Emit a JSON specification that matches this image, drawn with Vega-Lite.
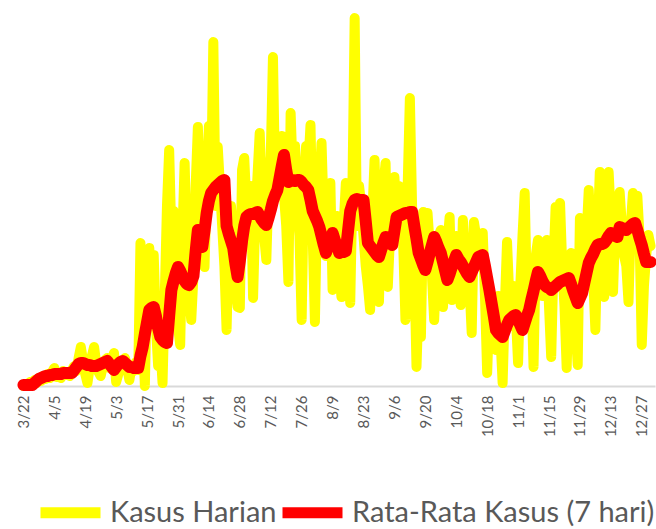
{
"$schema": "https://vega.github.io/schema/vega-lite/v6.json",
"width": 636,
"height": 381,
"autosize": {"type": "none"},
"padding": {"left": 19, "top": 5, "right": 1, "bottom": 143},
"background": "white",
"config": {"view": {"stroke": null}},
"data": {"values": [
{"date":"2020-03-22","harian":0,"rata":1},{"date":"2020-03-23","harian":2,"rata":1},{"date":"2020-03-24","harian":1,"rata":1},{"date":"2020-03-25","harian":4,"rata":1},{"date":"2020-03-26","harian":2,"rata":1},{"date":"2020-03-27","harian":6,"rata":3},{"date":"2020-03-28","harian":3,"rata":5},{"date":"2020-03-29","harian":8,"rata":7},{"date":"2020-03-30","harian":5,"rata":8},{"date":"2020-03-31","harian":10,"rata":9},
{"date":"2020-04-01","harian":7,"rata":10},{"date":"2020-04-02","harian":12,"rata":10},{"date":"2020-04-03","harian":8,"rata":11},{"date":"2020-04-04","harian":14,"rata":11},{"date":"2020-04-05","harian":18,"rata":12},{"date":"2020-04-06","harian":9,"rata":12},{"date":"2020-04-07","harian":12,"rata":12},{"date":"2020-04-08","harian":8,"rata":12},{"date":"2020-04-09","harian":15,"rata":13},{"date":"2020-04-10","harian":11,"rata":13},{"date":"2020-04-11","harian":14,"rata":13},{"date":"2020-04-12","harian":10,"rata":13},{"date":"2020-04-13","harian":16,"rata":13},{"date":"2020-04-14","harian":20,"rata":16},{"date":"2020-04-15","harian":15,"rata":19},{"date":"2020-04-16","harian":28,"rata":22},{"date":"2020-04-17","harian":39,"rata":23},{"date":"2020-04-18","harian":25,"rata":23},{"date":"2020-04-19","harian":12,"rata":22},{"date":"2020-04-20","harian":3,"rata":21},{"date":"2020-04-21","harian":18,"rata":21},{"date":"2020-04-22","harian":30,"rata":20},{"date":"2020-04-23","harian":39,"rata":20},{"date":"2020-04-24","harian":22,"rata":20},{"date":"2020-04-25","harian":14,"rata":21},{"date":"2020-04-26","harian":10,"rata":22},{"date":"2020-04-27","harian":20,"rata":23},{"date":"2020-04-28","harian":26,"rata":24},{"date":"2020-04-29","harian":28,"rata":25},{"date":"2020-04-30","harian":18,"rata":22},
{"date":"2020-05-01","harian":25,"rata":19},{"date":"2020-05-02","harian":33,"rata":16},{"date":"2020-05-03","harian":4,"rata":19},{"date":"2020-05-04","harian":12,"rata":22},{"date":"2020-05-05","harian":24,"rata":24},{"date":"2020-05-06","harian":22,"rata":25},{"date":"2020-05-07","harian":28,"rata":23},{"date":"2020-05-08","harian":18,"rata":21},{"date":"2020-05-09","harian":6,"rata":19},{"date":"2020-05-10","harian":20,"rata":19},{"date":"2020-05-11","harian":15,"rata":18},{"date":"2020-05-12","harian":24,"rata":18},{"date":"2020-05-13","harian":16,"rata":18},{"date":"2020-05-14","harian":143,"rata":30},{"date":"2020-05-15","harian":60,"rata":39},{"date":"2020-05-16","harian":0,"rata":52},{"date":"2020-05-17","harian":110,"rata":64},{"date":"2020-05-18","harian":138,"rata":76},{"date":"2020-05-19","harian":95,"rata":78},{"date":"2020-05-20","harian":131,"rata":79},{"date":"2020-05-21","harian":60,"rata":70},{"date":"2020-05-22","harian":20,"rata":58},{"date":"2020-05-23","harian":40,"rata":49},{"date":"2020-05-24","harian":3,"rata":46},{"date":"2020-05-25","harian":90,"rata":44},{"date":"2020-05-26","harian":180,"rata":43},{"date":"2020-05-27","harian":236,"rata":70},{"date":"2020-05-28","harian":150,"rata":96},{"date":"2020-05-29","harian":175,"rata":105},{"date":"2020-05-30","harian":90,"rata":113},{"date":"2020-05-31","harian":60,"rata":119},
{"date":"2020-06-01","harian":41,"rata":115},{"date":"2020-06-02","harian":150,"rata":110},{"date":"2020-06-03","harian":223,"rata":105},{"date":"2020-06-04","harian":140,"rata":102},{"date":"2020-06-05","harian":90,"rata":101},{"date":"2020-06-06","harian":66,"rata":104},{"date":"2020-06-07","harian":110,"rata":110},{"date":"2020-06-08","harian":200,"rata":135},{"date":"2020-06-09","harian":259,"rata":156},{"date":"2020-06-10","harian":190,"rata":148},{"date":"2020-06-11","harian":150,"rata":139},{"date":"2020-06-12","harian":119,"rata":155},{"date":"2020-06-13","harian":200,"rata":173},{"date":"2020-06-14","harian":260,"rata":185},{"date":"2020-06-15","harian":200,"rata":193},{"date":"2020-06-16","harian":344,"rata":196},{"date":"2020-06-17","harian":180,"rata":199},{"date":"2020-06-18","harian":239,"rata":201},{"date":"2020-06-19","harian":200,"rata":203},{"date":"2020-06-20","harian":160,"rata":205},{"date":"2020-06-21","harian":120,"rata":206},{"date":"2020-06-22","harian":56,"rata":160},{"date":"2020-06-23","harian":150,"rata":152},{"date":"2020-06-24","harian":180,"rata":145},{"date":"2020-06-25","harian":150,"rata":138},{"date":"2020-06-26","harian":100,"rata":122},{"date":"2020-06-27","harian":79,"rata":109},{"date":"2020-06-28","harian":78,"rata":125},{"date":"2020-06-29","harian":216,"rata":145},{"date":"2020-06-30","harian":228,"rata":160},
{"date":"2020-07-01","harian":180,"rata":169},{"date":"2020-07-02","harian":150,"rata":171},{"date":"2020-07-03","harian":200,"rata":172},{"date":"2020-07-04","harian":88,"rata":172},{"date":"2020-07-05","harian":170,"rata":173},{"date":"2020-07-06","harian":210,"rata":174},{"date":"2020-07-07","harian":253,"rata":170},{"date":"2020-07-08","harian":190,"rata":166},{"date":"2020-07-09","harian":150,"rata":163},{"date":"2020-07-10","harian":126,"rata":161},{"date":"2020-07-11","harian":200,"rata":168},{"date":"2020-07-12","harian":230,"rata":176},{"date":"2020-07-13","harian":329,"rata":185},{"date":"2020-07-14","harian":200,"rata":191},{"date":"2020-07-15","harian":240,"rata":196},{"date":"2020-07-16","harian":220,"rata":208},{"date":"2020-07-17","harian":250,"rata":220},{"date":"2020-07-18","harian":190,"rata":231},{"date":"2020-07-19","harian":160,"rata":216},{"date":"2020-07-20","harian":104,"rata":204},{"date":"2020-07-21","harian":273,"rata":205},{"date":"2020-07-22","harian":210,"rata":206},{"date":"2020-07-23","harian":240,"rata":205},{"date":"2020-07-24","harian":180,"rata":206},{"date":"2020-07-25","harian":150,"rata":206},{"date":"2020-07-26","harian":66,"rata":204},{"date":"2020-07-27","harian":200,"rata":201},{"date":"2020-07-28","harian":240,"rata":199},{"date":"2020-07-29","harian":220,"rata":196},{"date":"2020-07-30","harian":261,"rata":186},{"date":"2020-07-31","harian":150,"rata":175},
{"date":"2020-08-01","harian":64,"rata":170},{"date":"2020-08-02","harian":180,"rata":165},{"date":"2020-08-03","harian":200,"rata":159},{"date":"2020-08-04","harian":243,"rata":150},{"date":"2020-08-05","harian":170,"rata":141},{"date":"2020-08-06","harian":130,"rata":133},{"date":"2020-08-07","harian":160,"rata":140},{"date":"2020-08-08","harian":203,"rata":147},{"date":"2020-08-09","harian":96,"rata":153},{"date":"2020-08-10","harian":150,"rata":146},{"date":"2020-08-11","harian":170,"rata":140},{"date":"2020-08-12","harian":120,"rata":133},{"date":"2020-08-13","harian":89,"rata":134},{"date":"2020-08-14","harian":160,"rata":134},{"date":"2020-08-15","harian":203,"rata":135},{"date":"2020-08-16","harian":150,"rata":155},{"date":"2020-08-17","harian":83,"rata":175},{"date":"2020-08-18","harian":200,"rata":182},{"date":"2020-08-19","harian":368,"rata":186},{"date":"2020-08-20","harian":160,"rata":187},{"date":"2020-08-21","harian":200,"rata":186},{"date":"2020-08-22","harian":180,"rata":186},{"date":"2020-08-23","harian":150,"rata":186},{"date":"2020-08-24","harian":120,"rata":165},{"date":"2020-08-25","harian":100,"rata":143},{"date":"2020-08-26","harian":76,"rata":140},{"date":"2020-08-27","harian":170,"rata":137},{"date":"2020-08-28","harian":226,"rata":134},{"date":"2020-08-29","harian":150,"rata":131},{"date":"2020-08-30","harian":84,"rata":129},{"date":"2020-08-31","harian":180,"rata":136},
{"date":"2020-09-01","harian":200,"rata":143},{"date":"2020-09-02","harian":223,"rata":149},{"date":"2020-09-03","harian":99,"rata":146},{"date":"2020-09-04","harian":150,"rata":143},{"date":"2020-09-05","harian":190,"rata":141},{"date":"2020-09-06","harian":209,"rata":155},{"date":"2020-09-07","harian":170,"rata":169},{"date":"2020-09-08","harian":200,"rata":170},{"date":"2020-09-09","harian":180,"rata":171},{"date":"2020-09-10","harian":140,"rata":172},{"date":"2020-09-11","harian":66,"rata":173},{"date":"2020-09-12","harian":200,"rata":173},{"date":"2020-09-13","harian":288,"rata":174},{"date":"2020-09-14","harian":180,"rata":174},{"date":"2020-09-15","harian":120,"rata":160},{"date":"2020-09-16","harian":19,"rata":147},{"date":"2020-09-17","harian":90,"rata":133},{"date":"2020-09-18","harian":49,"rata":127},{"date":"2020-09-19","harian":174,"rata":121},{"date":"2020-09-20","harian":130,"rata":116},{"date":"2020-09-21","harian":173,"rata":124},{"date":"2020-09-22","harian":140,"rata":133},{"date":"2020-09-23","harian":110,"rata":141},{"date":"2020-09-24","harian":66,"rata":149},{"date":"2020-09-25","harian":120,"rata":144},{"date":"2020-09-26","harian":150,"rata":138},{"date":"2020-09-27","harian":156,"rata":133},{"date":"2020-09-28","harian":79,"rata":124},{"date":"2020-09-29","harian":120,"rata":115},{"date":"2020-09-30","harian":140,"rata":106},
{"date":"2020-10-01","harian":169,"rata":112},{"date":"2020-10-02","harian":86,"rata":119},{"date":"2020-10-03","harian":130,"rata":125},{"date":"2020-10-04","harian":150,"rata":131},{"date":"2020-10-05","harian":120,"rata":127},{"date":"2020-10-06","harian":81,"rata":124},{"date":"2020-10-07","harian":166,"rata":120},{"date":"2020-10-08","harian":130,"rata":116},{"date":"2020-10-09","harian":140,"rata":112},{"date":"2020-10-10","harian":100,"rata":109},{"date":"2020-10-11","harian":53,"rata":114},{"date":"2020-10-12","harian":164,"rata":119},{"date":"2020-10-13","harian":150,"rata":124},{"date":"2020-10-14","harian":120,"rata":129},{"date":"2020-10-15","harian":130,"rata":130},{"date":"2020-10-16","harian":153,"rata":131},{"date":"2020-10-17","harian":90,"rata":120},{"date":"2020-10-18","harian":13,"rata":108},{"date":"2020-10-19","harian":80,"rata":96},{"date":"2020-10-20","harian":60,"rata":83},{"date":"2020-10-21","harian":70,"rata":70},{"date":"2020-10-22","harian":36,"rata":56},{"date":"2020-10-23","harian":90,"rata":53},{"date":"2020-10-24","harian":50,"rata":51},{"date":"2020-10-25","harian":3,"rata":49},{"date":"2020-10-26","harian":80,"rata":55},{"date":"2020-10-27","harian":144,"rata":61},{"date":"2020-10-28","harian":90,"rata":66},{"date":"2020-10-29","harian":60,"rata":68},{"date":"2020-10-30","harian":100,"rata":70},{"date":"2020-10-31","harian":70,"rata":71},
{"date":"2020-11-01","harian":23,"rata":66},{"date":"2020-11-02","harian":100,"rata":61},{"date":"2020-11-03","harian":150,"rata":56},{"date":"2020-11-04","harian":193,"rata":63},{"date":"2020-11-05","harian":90,"rata":70},{"date":"2020-11-06","harian":60,"rata":76},{"date":"2020-11-07","harian":100,"rata":86},{"date":"2020-11-08","harian":19,"rata":95},{"date":"2020-11-09","harian":130,"rata":105},{"date":"2020-11-10","harian":146,"rata":114},{"date":"2020-11-11","harian":110,"rata":110},{"date":"2020-11-12","harian":90,"rata":105},{"date":"2020-11-13","harian":130,"rata":101},{"date":"2020-11-14","harian":146,"rata":99},{"date":"2020-11-15","harian":80,"rata":98},{"date":"2020-11-16","harian":29,"rata":96},{"date":"2020-11-17","harian":120,"rata":98},{"date":"2020-11-18","harian":179,"rata":100},{"date":"2020-11-19","harian":100,"rata":102},{"date":"2020-11-20","harian":183,"rata":104},{"date":"2020-11-21","harian":120,"rata":105},{"date":"2020-11-22","harian":80,"rata":106},{"date":"2020-11-23","harian":18,"rata":107},{"date":"2020-11-24","harian":100,"rata":108},{"date":"2020-11-25","harian":133,"rata":102},{"date":"2020-11-26","harian":90,"rata":95},{"date":"2020-11-27","harian":60,"rata":89},{"date":"2020-11-28","harian":21,"rata":83},{"date":"2020-11-29","harian":168,"rata":88},{"date":"2020-11-30","harian":110,"rata":93},
{"date":"2020-12-01","harian":130,"rata":103},{"date":"2020-12-02","harian":150,"rata":113},{"date":"2020-12-03","harian":196,"rata":123},{"date":"2020-12-04","harian":140,"rata":128},{"date":"2020-12-05","harian":110,"rata":132},{"date":"2020-12-06","harian":56,"rata":137},{"date":"2020-12-07","harian":150,"rata":141},{"date":"2020-12-08","harian":214,"rata":142},{"date":"2020-12-09","harian":150,"rata":142},{"date":"2020-12-10","harian":89,"rata":143},{"date":"2020-12-11","harian":180,"rata":146},{"date":"2020-12-12","harian":214,"rata":150},{"date":"2020-12-13","harian":170,"rata":153},{"date":"2020-12-14","harian":94,"rata":151},{"date":"2020-12-15","harian":160,"rata":150},{"date":"2020-12-16","harian":180,"rata":149},{"date":"2020-12-17","harian":194,"rata":159},{"date":"2020-12-18","harian":160,"rata":158},{"date":"2020-12-19","harian":130,"rata":157},{"date":"2020-12-20","harian":120,"rata":156},{"date":"2020-12-21","harian":84,"rata":158},{"date":"2020-12-22","harian":160,"rata":160},{"date":"2020-12-23","harian":193,"rata":162},{"date":"2020-12-24","harian":180,"rata":163},{"date":"2020-12-25","harian":190,"rata":156},{"date":"2020-12-26","harian":150,"rata":148},{"date":"2020-12-27","harian":41,"rata":141},{"date":"2020-12-28","harian":100,"rata":132},{"date":"2020-12-29","harian":130,"rata":124},{"date":"2020-12-30","harian":151,"rata":124},{"date":"2020-12-31","harian":140,"rata":124}
]},
"encoding": {
  "x": {
    "field": "date",
    "type": "temporal",
    "scale": {"type": "utc", "domain": [{"year": 2020, "month": 3, "date": 20, "utc": true}, {"year": 2021, "month": 1, "date": 2, "utc": true}]},
    "axis": {
      "title": null,
      "values": [
        {"year": 2020, "month": 3, "date": 22, "utc": true},
        {"year": 2020, "month": 4, "date": 5, "utc": true},
        {"year": 2020, "month": 4, "date": 19, "utc": true},
        {"year": 2020, "month": 5, "date": 3, "utc": true},
        {"year": 2020, "month": 5, "date": 17, "utc": true},
        {"year": 2020, "month": 5, "date": 31, "utc": true},
        {"year": 2020, "month": 6, "date": 14, "utc": true},
        {"year": 2020, "month": 6, "date": 28, "utc": true},
        {"year": 2020, "month": 7, "date": 12, "utc": true},
        {"year": 2020, "month": 7, "date": 26, "utc": true},
        {"year": 2020, "month": 8, "date": 9, "utc": true},
        {"year": 2020, "month": 8, "date": 23, "utc": true},
        {"year": 2020, "month": 9, "date": 6, "utc": true},
        {"year": 2020, "month": 9, "date": 20, "utc": true},
        {"year": 2020, "month": 10, "date": 4, "utc": true},
        {"year": 2020, "month": 10, "date": 18, "utc": true},
        {"year": 2020, "month": 11, "date": 1, "utc": true},
        {"year": 2020, "month": 11, "date": 15, "utc": true},
        {"year": 2020, "month": 11, "date": 29, "utc": true},
        {"year": 2020, "month": 12, "date": 13, "utc": true},
        {"year": 2020, "month": 12, "date": 27, "utc": true}
      ],
      "labelExpr": "utcFormat(datum.value, '%-m/%-d')",
      "labelAngle": -90,
      "labelFont": "Lato",
      "labelFontSize": 15,
      "labelColor": "#595959",
      "labelPadding": 9,
      "labelOverlap": false,
      "labelFlush": false,
      "ticks": false,
      "grid": false,
      "domainColor": "#d9d9d9",
      "domainWidth": 2
    }
  }
},
"layer": [
  {
    "mark": {"type": "line", "strokeWidth": 10, "strokeCap": "round", "strokeJoin": "round"},
    "encoding": {
      "y": {"field": "harian", "type": "quantitative", "scale": {"domain": [0, 381], "nice": false}, "axis": null},
      "color": {
        "datum": "Kasus Harian",
        "type": "nominal",
        "scale": {"domain": ["Kasus Harian", "Rata-Rata Kasus (7 hari)"], "range": ["#ffff00", "#ff0000"]},
        "legend": {
          "title": null,
          "orient": "none",
          "legendX": 16,
          "legendY": 472,
          "direction": "horizontal",
          "symbolType": "stroke",
          "symbolSize": 3600,
          "symbolStrokeWidth": 11,
          "labelFont": "Lato",
          "labelFontSize": 29,
          "labelColor": "#595959",
          "labelOffset": 4,
          "columnPadding": -24,
          "labelLimit": 0
        }
      }
    }
  },
  {
    "mark": {"type": "line", "strokeWidth": 12, "strokeCap": "round", "strokeJoin": "round"},
    "encoding": {
      "y": {"field": "rata", "type": "quantitative", "scale": {"domain": [0, 381], "nice": false}, "axis": null},
      "color": {"datum": "Rata-Rata Kasus (7 hari)", "type": "nominal"}
    }
  }
]
}
